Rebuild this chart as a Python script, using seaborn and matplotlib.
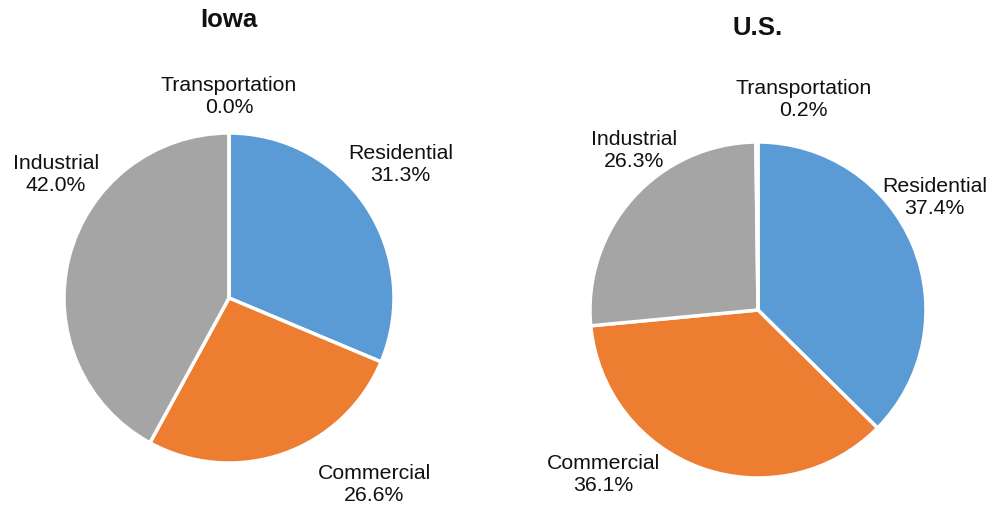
import matplotlib
matplotlib.use('Agg')
import seaborn as sns
import matplotlib.pyplot as plt

# data
sectors = ['Residential', 'Commercial', 'Industrial', 'Transportation']
iowa_share = [31.3, 26.6, 42.0, 0.0]
us_share = [37.4, 36.1, 26.3, 0.2]

sns.set_theme(style='white')
plt.rcParams['font.family'] = ['Liberation Sans', 'DejaVu Sans']
colors = sns.color_palette(['#5B9BD5', '#ED7D31', '#A5A5A5', '#FFC000'])

# label spots, in pie radius units (like the excel "best fit")
iowa_label_pos = [(1.04, 0.81), (0.88, -1.13), (-1.05, 0.75), (0.0, 1.22)]
us_label_pos = [(1.05, 0.67), (-0.92, -0.98), (-0.74, 0.95), (0.27, 1.25)]

W, H = 997, 512
fig = plt.figure(figsize=(W / 100, H / 100), dpi=100)


def draw_pie(cx, cy, r, values, title, title_y, label_pos):
    ax = fig.add_axes([(cx - r) / W, (H - cy - r) / H, 2 * r / W, 2 * r / H])
    ax.pie(values, colors=colors, startangle=90, counterclock=False,
           wedgeprops=dict(edgecolor='white', linewidth=2.5))
    ax.set_xlim(-1, 1)
    ax.set_ylim(-1, 1)
    ax.set_aspect('equal')
    ax.axis('off')
    for name, val, (lx, ly) in zip(sectors, values, label_pos):
        ax.text(lx, ly, f'{name}\n{val:.1f}%', ha='center', va='center',
                fontsize=15.3, color='#111111', linespacing=1.2, clip_on=False)
    fig.text(cx / W, 1 - title_y / H, title, ha='center', va='center',
             fontsize=18.5, fontweight='bold', color='#111111')


draw_pie(229, 298, 165, iowa_share, 'Iowa', 20, iowa_label_pos)
draw_pie(758, 310, 168, us_share, 'U.S.', 28, us_label_pos)

fig.savefig('out.png', dpi=100)
